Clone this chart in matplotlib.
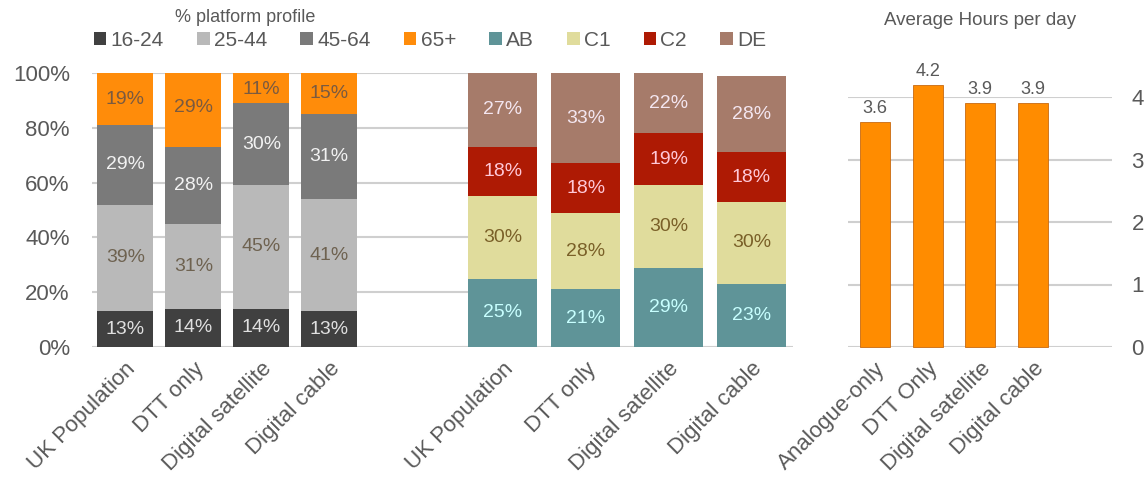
import matplotlib
matplotlib.use("Agg")
import matplotlib.pyplot as plt
import numpy as np

plt.rcParams['font.family'] = ['Liberation Sans', 'DejaVu Sans']

# platform profile by age
platforms = ["UK Population", "DTT only", "Digital satellite", "Digital cable"]
age_groups = ["16-24", "25-44", "45-64", "65+"]
age_16_24 = [13, 14, 14, 13]
age_25_44 = [39, 31, 45, 41]
age_45_64 = [29, 28, 30, 31]
age_65p = [19, 29, 11, 15]

# platform profile by social grade
grades = ["AB", "C1", "C2", "DE"]
grade_ab = [25, 21, 29, 23]
grade_c1 = [30, 28, 30, 30]
grade_c2 = [18, 18, 19, 18]
grade_de = [27, 33, 22, 28]

# average viewing hours
hour_platforms = ["Analogue-only", "DTT Only", "Digital satellite", "Digital cable"]
hours = [3.6, 4.2, 3.9, 3.9]

age_colors = ["#404040", "#B9B9B9", "#7A7A7A", "#FF8C0A"]
age_text = ["#E0E0E0", "#6E6250", "#F2F2F2", "#7A5A40"]
grade_colors = ["#5F9498", "#E0DC9C", "#AE1A04", "#A67B6A"]
grade_text = ["#C8FFFF", "#7A6028", "#FFC8D8", "#F4E6F0"]

TXT = "#595959"
GRID = "#CFCFCF"

W, H = 1145, 488
fig = plt.figure(figsize=(W / 100, H / 100), dpi=100)

def px(x0, y_top, w, h):
    return [x0 / W, 1 - (y_top + h) / H, w / W, h / H]

ax1 = fig.add_axes(px(92, 73, 378, 274))
ax2 = fig.add_axes(px(462, 73, 331, 274))
ax3 = fig.add_axes(px(848, 97, 264, 250))

def stacked(ax, series, colors, tcolors, labels, width):
    x = np.arange(len(platforms))
    bottom = np.zeros(len(platforms))
    handles = []
    for vals, c, tc, lab in zip(series, colors, tcolors, labels):
        v = np.array(vals) / 100.0
        b = ax.bar(x, v, width, bottom=bottom, color=c, label=lab, zorder=3)
        handles.append(b)
        for xi, bi, vi, raw in zip(x, bottom, v, vals):
            yc = bi + vi / 2
            if yc > 1:
                continue
            ax.text(xi, min(yc, 1 - 0.06) if bi + vi > 1 else yc, f"{raw}%",
                    ha="center", va="center", fontsize=14, color=tc, zorder=4)
        bottom += v
    ax.set_xticks(x)
    ax.set_xticklabels(platforms, rotation=45, ha="right", rotation_mode="anchor",
                       fontsize=16, color=TXT)
    ax.tick_params(axis="x", length=0, pad=8)
    ax.set_ylim(0, 1)
    for s in ax.spines.values():
        s.set_visible(False)
    return handles

h1 = stacked(ax1, [age_16_24, age_25_44, age_45_64, age_65p],
             age_colors, age_text, age_groups, 0.82)
ax1.set_xlim(-0.49, 5.07)
ax1.set_yticks([0, 0.2, 0.4, 0.6, 0.8, 1.0])
ax1.set_yticklabels(["0%", "20%", "40%", "60%", "80%", "100%"], fontsize=16, color=TXT)
ax1.tick_params(axis="y", length=0, pad=16)
ax1.yaxis.grid(True, color=GRID, lw=1.5, zorder=0)
ax1.set_axisbelow(True)

h2 = stacked(ax2, [grade_ab, grade_c1, grade_c2, grade_de],
             grade_colors, grade_text, grades, 0.83)
ax2.set_xlim(-0.49, 3.5)
ax2.set_yticks([])
ax2.axhline(0, color=GRID, lw=1.5, zorder=1)
ax2.patch.set_alpha(0)

# average hours chart
x3 = np.arange(len(hours))
ax3.bar(x3, hours, 0.57, color="#FF8C00", edgecolor="#C86A10", lw=0.6,
        zorder=3, clip_on=False)
for xi, v in zip(x3, hours):
    ax3.text(xi, v + 0.08, f"{v}", ha="center", va="bottom", fontsize=13,
             color=TXT, zorder=4)
ax3.set_xlim(-0.51, 4.5)
ax3.set_ylim(0, 4)
ax3.set_xticks(x3)
ax3.set_xticklabels(hour_platforms, rotation=45, ha="right", rotation_mode="anchor",
                    fontsize=16, color=TXT)
ax3.tick_params(axis="x", length=0, pad=8)
ax3.yaxis.tick_right()
ax3.set_yticks([0, 1, 2, 3, 4])
ax3.tick_params(axis="y", length=0, pad=14, labelsize=16, labelcolor=TXT)
ax3.yaxis.grid(True, color=GRID, lw=1.5, zorder=0)
ax3.set_axisbelow(True)
for s in ax3.spines.values():
    s.set_visible(False)
ax3.set_title("Average Hours per day", fontsize=13.5, color=TXT, pad=52)

fig.text(245 / W, 1 - 18 / H, "% platform profile", ha="center", va="center",
         fontsize=13, color=TXT)
fig.legend(h1 + h2, age_groups + grades, loc="center", ncol=8,
           bbox_to_anchor=(430 / W, 1 - 40 / H), frameon=False, fontsize=15,
           handlelength=0.6, handleheight=0.6, handletextpad=0.2,
           columnspacing=1.6, labelcolor=TXT)

fig.savefig("out.png", dpi=100)
